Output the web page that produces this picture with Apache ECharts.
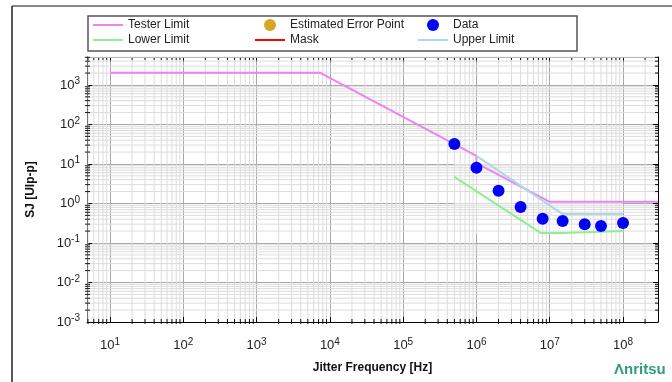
<!DOCTYPE html>
<html>
<head>
<meta charset="utf-8">
<script src="https://cdn.jsdelivr.net/npm/echarts@6/dist/echarts.min.js"></script>
<style>
  html, body { margin: 0; padding: 0; background: #fff; }
  #main { width: 672px; height: 382px; }
</style>
</head>
<body>
<div id="main"></div>
<script>
var chart = echarts.init(document.getElementById('main'));

// axis ranges (log)
var X_MIN = 4.85, X_MAX = 3e8;
var Y_MIN = 1e-3, Y_MAX = 5100;

// Tester Limit
var testerX = [10, 7300, 1e6, 1e6, 1e7, 3e8];
var testerY = [2050, 2050, 16, 10.5, 1.1, 1.1];
// Lower Limit
var lowerX = [5e5, 7.5e6, 1.5e7, 1.5e7, 1e8];
var lowerY = [4.7, 0.18, 0.18, 0.2, 0.2];
// Upper Limit
var upperX = [1e6, 1.5e7, 1e8];
var upperY = [16, 0.54, 0.54];
// measured data
var dataX = [5e5, 1e6, 2e6, 4e6, 8e6, 1.5e7, 3e7, 5e7, 1e8];
var dataY = [32, 8, 2.1, 0.81, 0.41, 0.36, 0.3, 0.27, 0.32];

function pairs(xs, ys) {
    return xs.map(function (x, i) { return [x, ys[i]]; });
}

// minor ticks (2..9 per decade)
var gridData = [];
for (var d = 0; d <= 8; d++) {
    for (var k = 2; k <= 9; k++) {
        var v = k * Math.pow(10, d);
        if (v > X_MIN && v < X_MAX) gridData.push([v, Y_MIN, 0]);
    }
}
for (var d = -3; d <= 3; d++) {
    for (var k = 2; k <= 9; k++) {
        var v = k * Math.pow(10, d);
        if (v > Y_MIN && v < Y_MAX) gridData.push([X_MIN, v, 1]);
    }
}

function renderGrid(params, api) {
    var dir = api.value(2);
    var a, b, kids = [];
    var thin = { stroke: '#dcdcdc', lineWidth: 1 };
    var tk = { stroke: '#111', lineWidth: 1 };
    if (dir === 0) {
        var v = api.value(0);
        a = api.coord([v, Y_MIN]);
        b = api.coord([v, Y_MAX]);
        kids.push({ type: 'line', shape: { x1: a[0], y1: a[1], x2: b[0], y2: b[1] }, style: thin });
        kids.push({ type: 'line', shape: { x1: a[0], y1: a[1] - 3, x2: a[0], y2: a[1] + 2 }, style: tk });
        kids.push({ type: 'line', shape: { x1: b[0], y1: b[1], x2: b[0], y2: b[1] + 3 }, style: tk });
    } else {
        var w = api.value(1);
        a = api.coord([X_MIN, w]);
        b = api.coord([X_MAX, w]);
        kids.push({ type: 'line', shape: { x1: a[0], y1: a[1], x2: b[0], y2: b[1] }, style: thin });
        kids.push({ type: 'line', shape: { x1: a[0] - 2, y1: a[1], x2: a[0] + 3, y2: a[1] }, style: tk });
        kids.push({ type: 'line', shape: { x1: b[0] - 3, y1: b[1], x2: b[0], y2: b[1] }, style: tk });
    }
    return { type: 'group', children: kids };
}

function powLabel(value) {
    var e = Math.log10(value);
    var r = Math.round(e);
    if (Math.abs(e - r) > 1e-6) return '';
    return '{b|10}{s|' + r + '}';
}

var font = 'Liberation Sans';

var labelRich = {
    b: { fontSize: 13, color: '#222', fontFamily: font },
    s: { fontSize: 10, color: '#222', fontFamily: font, verticalAlign: 'top', padding: [0, 0, 7, 0] }
};

// thin line icon for line-type legend items
var LINE_ICON = 'path://M0,0L0.01,0M0,5L30,5L30,7L0,7ZM29.99,12L30,12';

var legendBase = {
    orient: 'vertical',
    top: 19,
    padding: 0,
    itemGap: 3,
    itemWidth: 30,
    itemHeight: 12,
    selectedMode: false,
    textStyle: { fontSize: 12, color: '#222', fontFamily: font }
};

var option = {
    animation: false,
    textStyle: { fontFamily: font },
    grid: { left: 87, right: 14, top: 57, bottom: 60 },
    legend: [
        Object.assign({ left: 93, data: [
            { name: 'Tester Limit', icon: LINE_ICON },
            { name: 'Lower Limit', icon: LINE_ICON }
        ] }, legendBase),
        Object.assign({ left: 255, data: [
            { name: 'Estimated Error Point', icon: 'circle' },
            { name: 'Mask', icon: LINE_ICON }
        ] }, legendBase),
        Object.assign({ left: 418, data: [
            { name: 'Data', icon: 'circle' },
            { name: 'Upper Limit', icon: LINE_ICON }
        ] }, legendBase)
    ],
    graphic: [
        { type: 'line', shape: { x1: 12, y1: 6, x2: 672, y2: 6 }, style: { stroke: '#888', lineWidth: 2 } },
        { type: 'line', shape: { x1: 12, y1: 6, x2: 12, y2: 382 }, style: { stroke: '#222', lineWidth: 1.5 } },
        { type: 'rect', shape: { x: 88, y: 16, width: 489, height: 35 }, style: { fill: 'none', stroke: '#555', lineWidth: 1.5 } },
        { type: 'text', left: 614, top: 362, style: { text: '\u039Bnritsu', fill: '#2e9e74', font: 'bold 15px "Liberation Sans"' } }
    ],
    xAxis: [{
        type: 'log',
        min: X_MIN,
        max: X_MAX,
        name: 'Jitter Frequency [Hz]',
        nameLocation: 'middle',
        nameGap: 40,
        nameTextStyle: { fontSize: 12, fontWeight: 'bold', color: '#111', fontFamily: font },
        axisLine: { lineStyle: { color: '#000', width: 1 } },
        axisTick: { inside: true, length: 5, lineStyle: { color: '#000' } },
        axisLabel: { formatter: powLabel, rich: labelRich, margin: 15, showMinLabel: false, showMaxLabel: false },
        splitLine: { show: true, lineStyle: { color: '#a8a8a8', width: 1 } }
    }, {
        type: 'log',
        position: 'top',
        min: X_MIN,
        max: X_MAX,
        axisLine: { lineStyle: { color: '#000', width: 1 } },
        axisTick: { inside: true, length: 5, lineStyle: { color: '#000' } },
        axisLabel: { show: false },
        splitLine: { show: false }
    }],
    yAxis: [{
        type: 'log',
        min: Y_MIN,
        max: Y_MAX,
        name: 'SJ [UIp-p]',
        nameLocation: 'middle',
        nameGap: 50,
        nameTextStyle: { fontSize: 12, fontWeight: 'bold', color: '#111', fontFamily: font },
        axisLine: { lineStyle: { color: '#000', width: 1 } },
        axisTick: { inside: true, length: 5, lineStyle: { color: '#000' } },
        axisLabel: { formatter: powLabel, rich: labelRich, margin: 7, showMinLabel: true, showMaxLabel: false },
        splitLine: { show: true, lineStyle: { color: '#a8a8a8', width: 1 } }
    }, {
        type: 'log',
        position: 'right',
        min: Y_MIN,
        max: Y_MAX,
        axisLine: { lineStyle: { color: '#000', width: 1 } },
        axisTick: { inside: true, length: 5, lineStyle: { color: '#000' } },
        axisLabel: { show: false },
        splitLine: { show: false }
    }],
    series: [
        {
            name: 'minor',
            type: 'custom',
            silent: true,
            z: 1,
            renderItem: renderGrid,
            data: gridData
        },
        {
            name: 'Tester Limit',
            type: 'line',
            symbol: 'none',
            z: 3,
            lineStyle: { color: '#ee82ee', width: 2 },
            itemStyle: { color: '#ee82ee' },
            data: pairs(testerX, testerY),
            markArea: {
                silent: true,
                itemStyle: { color: 'rgba(255,255,255,0.55)' },
                data: [[{ coord: [5e5, 0.17] }, { coord: [1e8, 40] }]]
            }
        },
        {
            name: 'Lower Limit',
            type: 'line',
            symbol: 'none',
            z: 3,
            lineStyle: { color: '#90ee90', width: 2 },
            itemStyle: { color: '#90ee90' },
            data: pairs(lowerX, lowerY)
        },
        {
            name: 'Upper Limit',
            type: 'line',
            symbol: 'none',
            z: 3,
            lineStyle: { color: '#add8e6', width: 2 },
            itemStyle: { color: '#add8e6' },
            data: pairs(upperX, upperY)
        },
        {
            name: 'Mask',
            type: 'line',
            symbol: 'none',
            lineStyle: { color: '#ff0000', width: 2 },
            itemStyle: { color: '#ff0000' },
            data: []
        },
        {
            name: 'Estimated Error Point',
            type: 'scatter',
            symbol: 'circle',
            symbolSize: 12,
            itemStyle: { color: '#daa520', opacity: 1 },
            data: []
        },
        {
            name: 'Data',
            type: 'scatter',
            symbol: 'circle',
            symbolSize: 12,
            z: 5,
            itemStyle: { color: '#0000ff', opacity: 1 },
            data: pairs(dataX, dataY)
        }
    ]
};
chart.setOption(option);
</script>
</body>
</html>
